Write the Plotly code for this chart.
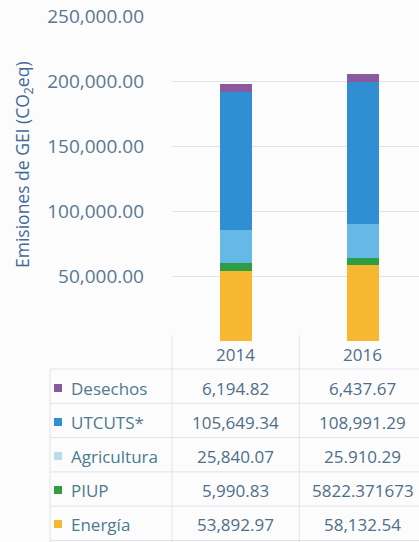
import plotly.graph_objects as go

years = ["2014", "2016"]
categories = ["Desechos", "UTCUTS*", "Agricultura", "PIUP", "Energía"]
desechos = [6194.82, 6437.67]
utcuts = [105649.34, 108991.29]
agricultura = [25840.07, 25910.29]
piup = [5990.83, 5822.371673]
energia = [53892.97, 58132.54]
table_text = [
    ["6,194.82", "6,437.67"],
    ["105,649.34", "108,991.29"],
    ["25,840.07", "25.910.29"],
    ["5,990.83", "5822.371673"],
    ["53,892.97", "58,132.54"],
]
y_ticks = [50000, 100000, 150000, 200000, 250000]

colors = {
    "Desechos": "#8a5a9c",
    "UTCUTS*": "#2f8fd2",
    "Agricultura": "#66b8e6",
    "PIUP": "#2e9e45",
    "Energía": "#f7b731",
}
values = {
    "Desechos": desechos,
    "UTCUTS*": utcuts,
    "Agricultura": agricultura,
    "PIUP": piup,
    "Energía": energia,
}

W, H = 419, 542
L, T, B = 172, 16, 201
plot_h = H - T - B
plot_w = W - L

fig = go.Figure()
for name in ["Energía", "PIUP", "Agricultura", "UTCUTS*", "Desechos"]:
    fig.add_trace(go.Bar(x=years, y=values[name], name=name,
                         marker=dict(color=colors[name], line=dict(width=0)),
                         width=0.25, showlegend=False))

def py(p):
    return (H - B - p) / plot_h

def px(p):
    return (p - L) / plot_w

font = "Open Sans"
val_color = "#4f6e8a"
lab_color = "#4a7b8e"
grid_c = "#e2e3ea"

annotations = []
# header row
for j, yr in enumerate(years):
    annotations.append(dict(x=j, xref="x", y=py(354), yref="paper", text=yr,
                            xanchor="center", yanchor="middle",
                            showarrow=False, font=dict(family=font, size=17, color=val_color)))
row_y0 = 388
row_h = 34
for i, cat in enumerate(categories):
    yy = py(row_y0 + row_h * i)
    annotations.append(dict(x=px(69), xref="paper", y=yy, yref="paper", text=cat,
                            xanchor="left", yanchor="middle", showarrow=False,
                            font=dict(family=font, size=17, color=lab_color)))
    for j, yr in enumerate(years):
        annotations.append(dict(x=j, xref="x", y=yy, yref="paper", text=table_text[i][j],
                                xanchor="center", yanchor="middle",
                                showarrow=False, font=dict(family=font, size=17, color=val_color)))
annotations.append(dict(x=px(23), xref="paper", y=py(165), yref="paper",
                        text="Emisiones de GEI (CO<sub>2</sub>eq)", textangle=-90,
                        xanchor="center", yanchor="middle",
                        showarrow=False, font=dict(family=font, size=17.5, color="#3f6b96")))

shapes = []
for k in range(6):
    yy = py(369 + 34.3 * k)
    shapes.append(dict(type="line", xref="paper", yref="paper", x0=px(50), x1=1.1,
                       y0=yy, y1=yy, line=dict(color=grid_c, width=1)))
shapes.append(dict(type="line", xref="paper", yref="paper", x0=0, x1=0,
                   y0=py(335), y1=py(542), line=dict(color=grid_c, width=1)))
shapes.append(dict(type="line", xref="x", yref="paper", x0=0.5, x1=0.5,
                   y0=py(335), y1=py(542), line=dict(color=grid_c, width=1)))
shapes.append(dict(type="line", xref="paper", yref="paper", x0=px(50), x1=px(50),
                   y0=py(369), y1=py(542), line=dict(color=grid_c, width=1)))
# legend keys
for i, cat in enumerate(categories):
    yc = row_y0 + row_h * i
    shapes.append(dict(type="rect", xref="paper", yref="paper",
                       x0=px(54), x1=px(62), y0=py(yc + 4), y1=py(yc - 4),
                       fillcolor=colors[cat] if cat != "Agricultura" else "#b9dcea",
                       line=dict(width=0)))

fig.update_layout(
    width=W, height=H,
    margin=dict(l=L, r=0, t=T, b=B),
    barmode="stack",
    paper_bgcolor="#fcfcfd",
    plot_bgcolor="#fcfcfd",
    xaxis=dict(type="category", range=[-0.5, 1.44], showticklabels=False,
               showgrid=False, zeroline=False, showline=False),
    yaxis=dict(range=[0, 250000], tickvals=y_ticks, tickformat=",.2f",
               showgrid=True, gridcolor=grid_c, gridwidth=1, zeroline=False,
               ticklabelstandoff=27,
               tickfont=dict(family=font, size=19, color="#5a7792")),
    annotations=annotations,
    shapes=shapes,
    font=dict(family=font),
)

fig.write_html("out.html", config={"displayModeBar": False},
               post_script="document.body.style.margin='0';")
